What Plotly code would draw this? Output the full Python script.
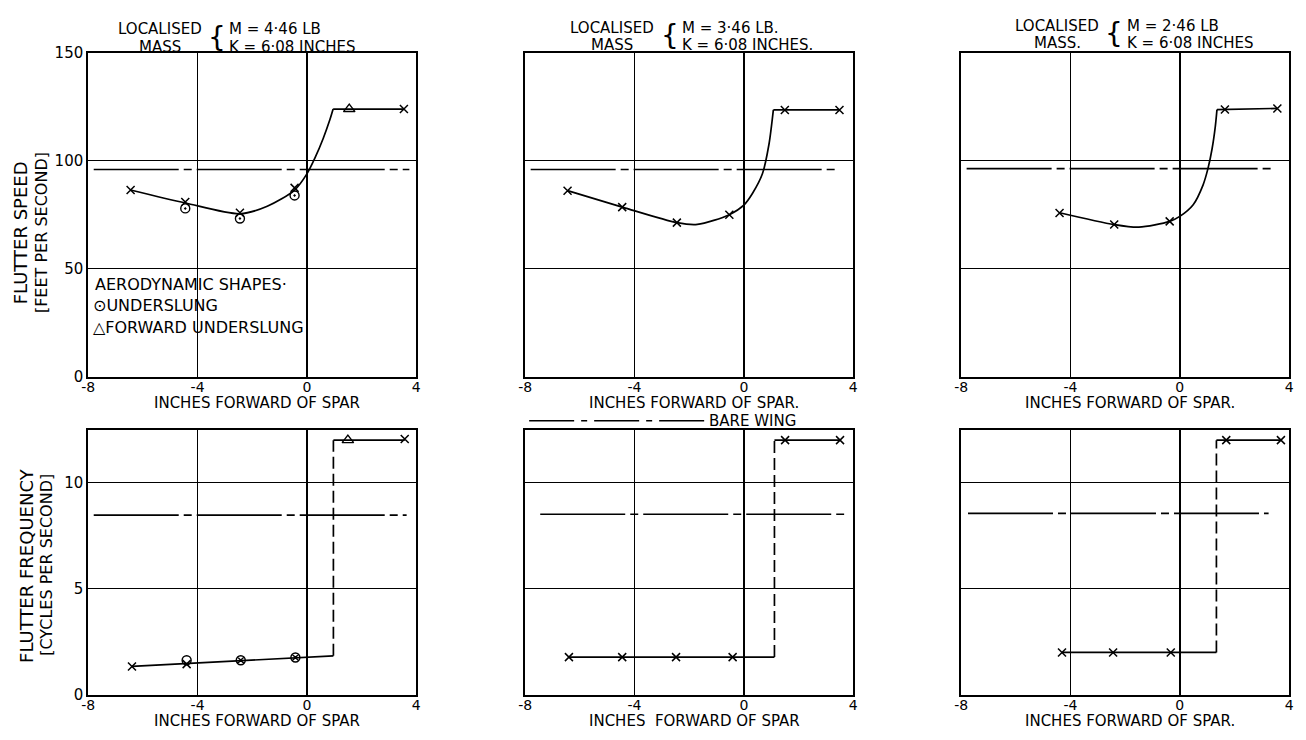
import plotly.graph_objects as go

W, H = 1306, 740
FONT = "DejaVu Sans"

# ---------------- data ----------------
X_TICKS = [-8, -4, 0, 4]
X_TICK_TEXT = ["-8", "-4", "0", "4"]
SPEED_TICKS = [0, 50, 100, 150]
SPEED_TICK_TEXT = ["0", "50", "100", "150"]
FREQ_TICKS = [0, 5, 10]
FREQ_TICK_TEXT = ["0", "5", "10"]

TITLE_L1 = ["LOCALISED", "LOCALISED", "LOCALISED"]
TITLE_L2 = ["MASS", "MASS", "MASS."]
TITLE_R1 = ["M = 4·46 LB", "M = 3·46 LB.", "M = 2·46 LB"]
TITLE_R2 = ["K = 6·08 INCHES", "K = 6·08 INCHES.", "K = 6·08 INCHES"]
XTITLES_TOP = ["INCHES FORWARD OF SPAR", "INCHES FORWARD OF SPAR.", "INCHES FORWARD OF SPAR."]
XTITLES_BOT = ["INCHES FORWARD OF SPAR", "INCHES  FORWARD OF SPAR", "INCHES FORWARD OF SPAR."]

# flutter speed: smooth curve through test points, then plateau
SPEED_CURVE_X = [
    [-6.45, -4.45, -2.45, -1.45, -0.45, 0.0, 0.3, 0.6, 0.84, 0.96],
    [-6.45, -4.45, -2.45, -1.7, -0.53, 0.0, 0.32, 0.68, 0.92, 1.08],
    [-4.4, -2.4, -1.5, -0.37, 0.0, 0.49, 0.85, 1.03, 1.18, 1.3, 1.36],
]
SPEED_CURVE_Y = [
    [86.5, 80.5, 75.5, 79.0, 86.5, 94.0, 101.5, 110.5, 119.0, 124.0],
    [86.2, 78.6, 71.4, 70.6, 75.1, 79.5, 85.0, 94.0, 107.7, 123.6],
    [76.0, 70.5, 69.3, 72.0, 74.3, 79.7, 88.8, 96.4, 105.5, 116.0, 123.7],
]
SPEED_PLATEAU_X = [[0.96, 3.55], [1.08, 3.5], [1.36, 3.57]]
SPEED_PLATEAU_Y = [[124.0, 124.0], [123.6, 123.6], [123.7, 124.3]]
SPEED_X_MARK_X = [[-6.45, -4.45, -2.45, -0.45, 3.55],
                  [-6.45, -4.45, -2.45, -0.53, 1.5, 3.5],
                  [-4.4, -2.4, -0.37, 1.65, 3.57]]
SPEED_X_MARK_Y = [[86.5, 81.0, 76.0, 87.5, 124.0],
                  [86.2, 78.6, 71.4, 75.1, 123.6, 123.6],
                  [75.9, 70.5, 72.0, 123.8, 124.3]]
# aerodynamic shapes (panel 1 only)
UNDERSLUNG_X = [-4.45, -2.45, -0.45]
UNDERSLUNG_Y = [78.0, 73.3, 84.0]
FWD_UNDERSLUNG_X = [1.55]
FWD_UNDERSLUNG_Y = [124.0]

# flutter frequency: low branch, step, high branch
FREQ_LOW_X = [[-6.4, 0.97], [-6.4, 1.12], [-4.3, 1.34]]
FREQ_LOW_Y = [[1.34, 1.84], [1.78, 1.78], [2.0, 2.0]]
FREQ_STEP_X = [0.97, 1.12, 1.34]
FREQ_HIGH_Y = [12.0, 12.0, 12.0]
FREQ_HIGH_END = [3.58, 3.52, 3.7]
FREQ_X_MARK_X = [[-6.4, -4.4, 3.58],
                 [-6.4, -4.45, -2.48, -0.41, 1.51, 3.52],
                 [-4.31, -2.44, -0.33, 1.7, 3.7]]
FREQ_X_MARK_Y = [[1.34, 1.45, 12.05],
                 [1.78, 1.78, 1.78, 1.78, 12.0, 12.0],
                 [2.0, 2.0, 2.0, 12.0, 12.0]]
FREQ_CIRCLE_X = [-4.4]
FREQ_CIRCLE_Y = [1.63]
FREQ_CIRCLEX_X = [-2.42, -0.42]
FREQ_CIRCLEX_Y = [1.63, 1.76]
FREQ_TRI_X = [1.5]
FREQ_TRI_Y = [12.0]

# bare wing reference
BARE_SPEED = [96.0, 96.0, 96.4]
BARE_SPEED_X = [[-7.8, 3.75], [-7.8, 3.4], [-7.8, 3.5]]
BARE_FREQ = [8.47, 8.51, 8.55]
BARE_FREQ_X = [[-7.8, 3.65], [-7.45, 3.67], [-7.75, 3.25]]

# ---------------- layout geometry (pixels) ----------------
COLS = [(82, 413), (523, 854), (963, 1294)]
ROWS = [(45, 377), (431, 703)]


def fx(p):
    return p / W


def fy(p):
    return 1 - p / H


fig = go.Figure()
BD = "85px,5px,8px,5px"
LW = 1.7

for i in range(3):
    # top row: speed
    xa, ya = f"x{i+1}", f"y{i+1}"
    fig.add_trace(go.Scatter(x=BARE_SPEED_X[i], y=[BARE_SPEED[i]] * 2, mode="lines",
                             line=dict(color="black", width=LW, dash=BD), xaxis=xa, yaxis=ya))
    fig.add_trace(go.Scatter(x=SPEED_CURVE_X[i], y=SPEED_CURVE_Y[i], mode="lines",
                             line=dict(color="black", width=LW, shape="spline", smoothing=0.8),
                             xaxis=xa, yaxis=ya))
    fig.add_trace(go.Scatter(x=SPEED_PLATEAU_X[i], y=SPEED_PLATEAU_Y[i], mode="lines",
                             line=dict(color="black", width=LW), xaxis=xa, yaxis=ya))
    fig.add_trace(go.Scatter(x=SPEED_X_MARK_X[i], y=SPEED_X_MARK_Y[i], mode="markers",
                             marker=dict(symbol="x-thin-open", size=8, color="black",
                                         line=dict(color="black", width=1.5)),
                             xaxis=xa, yaxis=ya))
    # bottom row: frequency
    xb, yb = f"x{i+4}", f"y{i+4}"
    fig.add_trace(go.Scatter(x=BARE_FREQ_X[i], y=[BARE_FREQ[i]] * 2, mode="lines",
                             line=dict(color="black", width=LW, dash=BD), xaxis=xb, yaxis=yb))
    fig.add_trace(go.Scatter(x=FREQ_LOW_X[i], y=FREQ_LOW_Y[i], mode="lines",
                             line=dict(color="black", width=LW), xaxis=xb, yaxis=yb))
    fig.add_trace(go.Scatter(x=[FREQ_STEP_X[i], FREQ_STEP_X[i]],
                             y=[FREQ_LOW_Y[i][-1], FREQ_HIGH_Y[i]], mode="lines",
                             line=dict(color="black", width=LW, dash="12px,5px"),
                             xaxis=xb, yaxis=yb))
    fig.add_trace(go.Scatter(x=[FREQ_STEP_X[i], FREQ_HIGH_END[i]],
                             y=[FREQ_HIGH_Y[i], FREQ_HIGH_Y[i]], mode="lines",
                             line=dict(color="black", width=LW), xaxis=xb, yaxis=yb))
    fig.add_trace(go.Scatter(x=FREQ_X_MARK_X[i], y=FREQ_X_MARK_Y[i], mode="markers",
                             marker=dict(symbol="x-thin-open", size=8, color="black",
                                         line=dict(color="black", width=1.5)),
                             xaxis=xb, yaxis=yb))

# aerodynamic shape markers (panel 1)
fig.add_trace(go.Scatter(x=UNDERSLUNG_X, y=UNDERSLUNG_Y, mode="markers",
                         marker=dict(symbol="circle-open-dot", size=9, color="black",
                                     line=dict(color="black", width=1.4)), xaxis="x1", yaxis="y1"))
fig.add_trace(go.Scatter(x=FWD_UNDERSLUNG_X, y=FWD_UNDERSLUNG_Y, mode="markers",
                         marker=dict(symbol="triangle-up-open", size=10, color="black",
                                     line=dict(color="black", width=1.4)), xaxis="x1", yaxis="y1"))
fig.add_trace(go.Scatter(x=FREQ_CIRCLE_X, y=FREQ_CIRCLE_Y, mode="markers",
                         marker=dict(symbol="circle-open", size=9, color="black",
                                     line=dict(color="black", width=1.4)), xaxis="x4", yaxis="y4"))
fig.add_trace(go.Scatter(x=FREQ_CIRCLEX_X, y=FREQ_CIRCLEX_Y, mode="markers",
                         marker=dict(symbol="circle-x-open", size=9, color="black",
                                     line=dict(color="black", width=1.4)), xaxis="x4", yaxis="y4"))
fig.add_trace(go.Scatter(x=FREQ_TRI_X, y=FREQ_TRI_Y, mode="markers",
                         marker=dict(symbol="triangle-up-open", size=10, color="black",
                                     line=dict(color="black", width=1.4)), xaxis="x4", yaxis="y4"))

layout = dict(width=W, height=H, margin=dict(l=0, r=0, t=0, b=0),
              paper_bgcolor="white", plot_bgcolor="white", showlegend=False,
              font=dict(family=FONT, color="black", size=15))

for r in range(2):
    for c in range(3):
        k = r * 3 + c + 1
        xs = "xaxis" if k == 1 else f"xaxis{k}"
        ys = "yaxis" if k == 1 else f"yaxis{k}"
        x0, x1 = COLS[c]
        y0, y1 = ROWS[r]
        layout[xs] = dict(domain=[fx(x0), fx(x1)], anchor=f"y{k}", range=[-8, 4],
                          tickvals=X_TICKS, ticktext=X_TICK_TEXT, showgrid=True,
                          gridcolor="black", gridwidth=1, zeroline=True, zerolinecolor="black",
                          zerolinewidth=1.8, showline=True, linecolor="black", linewidth=2,
                          mirror=True, ticks="", tickfont=dict(size=14, family=FONT),
                          ticklabelstandoff=-4, fixedrange=True)
        if r == 0:
            yr, tv, tt = [0, 150], SPEED_TICKS, SPEED_TICK_TEXT
        else:
            yr, tv, tt = [0, 12.5], FREQ_TICKS, FREQ_TICK_TEXT
        layout[ys] = dict(domain=[fy(y1), fy(y0)], anchor=f"x{k}", range=yr,
                          tickvals=tv, ticktext=tt, showgrid=True, gridcolor="black",
                          gridwidth=1, zeroline=False, showline=True, linecolor="black",
                          linewidth=2, mirror=True, ticks="", showticklabels=(c == 0),
                          tickfont=dict(size=15, family=FONT), fixedrange=True)

ann = []


def text(px, py, s, size=15, xanchor="center", yanchor="middle", angle=0, align="center"):
    ann.append(dict(x=fx(px), y=fy(py), xref="paper", yref="paper", text=s, showarrow=False,
                    xanchor=xanchor, yanchor=yanchor, textangle=angle, align=align,
                    borderpad=0, font=dict(size=size, family=FONT, color="black")))


# panel titles: (centre of left block, brace x, left of right block, first line y)
TITLE_POS = [(154, 212, 223, 21), (611, 669, 680, 19), (1060, 1117, 1129, 17)]
for i, (cx, bx, rx, ty) in enumerate(TITLE_POS):
    text(cx, ty, TITLE_L1[i], size=15)
    text(cx, ty + 18, TITLE_L2[i], size=15)
    text(bx, ty + 8, "{", size=28)
    text(rx, ty, TITLE_R1[i], size=15, xanchor="left")
    text(rx, ty + 18, TITLE_R2[i], size=15, xanchor="left")

# x titles
for i, (x0, x1) in enumerate(COLS):
    text((x0 + x1) / 2 + 5, 404, XTITLES_TOP[i], size=15)
    text((x0 + x1) / 2 + 5, 730, XTITLES_BOT[i], size=15)

# y titles
text(14, 229, "FLUTTER SPEED", size=18, angle=-90)
text(35, 229, "[FEET PER SECOND]", size=16, angle=-90)
text(19, 570, "FLUTTER FREQUENCY", size=18, angle=-90)
text(40, 570, "[CYCLES PER SECOND]", size=16, angle=-90)

# aerodynamic shapes legend
text(88, 282, "AERODYNAMIC SHAPES·", size=16, xanchor="left")
text(86, 304, "⊙UNDERSLUNG", size=16, xanchor="left")
text(86, 326, "△FORWARD UNDERSLUNG", size=16, xanchor="left")

# bare wing legend
text(708, 422, "BARE WING", size=15, xanchor="left")
layout["shapes"] = [dict(type="line", xref="paper", yref="paper", x0=fx(527), x1=fx(705),
                         y0=fy(422), y1=fy(422), line=dict(color="black", width=LW,
                                                            dash="45px,7px,6px,7px"))]
layout["annotations"] = ann

fig.update_layout(**layout)
fig.write_html("out.html")
